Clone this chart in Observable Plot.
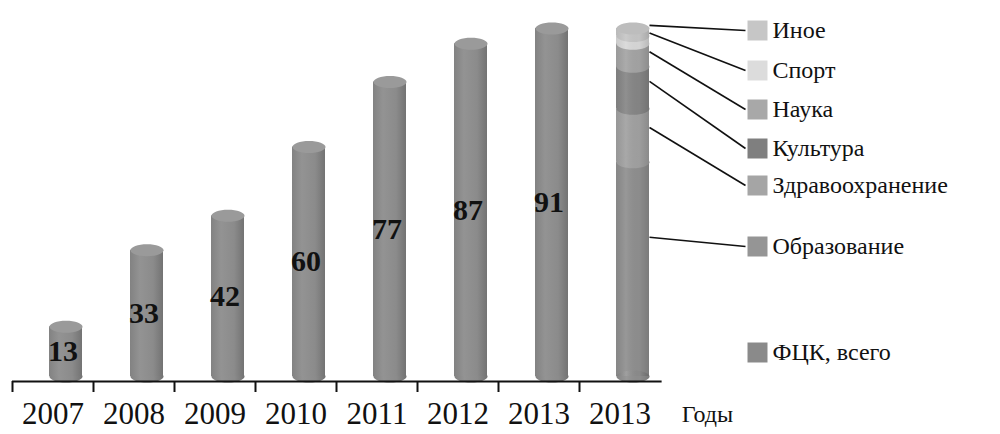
<!DOCTYPE html>
<html>
<head>
<meta charset="utf-8">
<script src="https://cdn.jsdelivr.net/npm/d3@7"></script>
<script src="https://cdn.jsdelivr.net/npm/@observablehq/plot@0.6"></script>
<style>
  html, body { margin: 0; padding: 0; background: #fff; }
  #chart svg { display: block; }
  #chart svg text { font-family: "Liberation Serif", "Times New Roman", serif; }
</style>
</head>
<body>
<div id="chart"></div>
<script>
// ---- data ----
const years = ["2007", "2008", "2009", "2010", "2011", "2012", "2013", "2013"];
const totals = [13, 33, 42, 60, 77, 87, 91];
const sectors = ["Образование", "Здравоохранение", "Культура", "Наука", "Спорт", "Иное"];
const sectorValues = [56, 14, 11, 6, 2, 2];
const legendLabels = ["Иное", "Спорт", "Наука", "Культура", "Здравоохранение", "Образование", "ФЦК, всего"];
const axisTitle = "Годы";

// ---- styles / layout ----
const FONT = "Liberation Serif";
const sectorColors = {"Образование": "#8f8f8f", "Здравоохранение": "#a1a1a1", "Культура": "#868686", "Наука": "#a4a4a4", "Спорт": "#d8d8d8", "Иное": "#c6c6c6"};
const legendColors = {"Иное": "#c6c6c6", "Спорт": "#dcdcdc", "Наука": "#a8a8a8", "Культура": "#7f7f7f", "Здравоохранение": "#a5a5a5", "Образование": "#959595", "ФЦК, всего": "#8a8a8a"};
const legendRowPx = [30, 70, 109, 148, 185, 246, 352];
const W = 1000, H = 434;
const mL = 12, mR = 340, mT = 0, mB = 58;
const xDomain = [-0.5, 7.5], yDomain = [0, 98.3];
const pxPerX = (W - mL - mR) / (xDomain[1] - xDomain[0]);
const pxPerY = (H - mT - mB) / (yDomain[1] - yDomain[0]);
const xOfPx = px => (px - mL) / pxPerX + xDomain[0];
const yOfPx = py => (H - mB - py) / pxPerY + yDomain[0];
const barShift = 13 / pxPerX;      // cylinders drawn right of band centre (3D offset)
const barHalf = 16.5 / pxPerX;
const RX = 16.5, RY = 6;

const ellipse = {
  draw(ctx) {
    const k = 0.5523;
    ctx.moveTo(RX, 0);
    ctx.bezierCurveTo(RX, RY * k, RX * k, RY, 0, RY);
    ctx.bezierCurveTo(-RX * k, RY, -RX, RY * k, -RX, 0);
    ctx.bezierCurveTo(-RX, -RY * k, -RX * k, -RY, 0, -RY);
    ctx.bezierCurveTo(RX * k, -RY, RX, -RY * k, RX, 0);
    ctx.closePath();
  }
};
const square = {
  draw(ctx) { ctx.moveTo(-10, -10); ctx.lineTo(10, -10); ctx.lineTo(10, 10); ctx.lineTo(-10, 10); ctx.closePath(); }
};

// ---- derived tables ----
const totalRows = totals.map((v, i) => ({i, v, label: years[i]}));
let acc = 0;
const segRows = sectors.map((s, k) => {
  const r = {i: 7, sector: s, y0: acc, y1: acc + sectorValues[k], k};
  acc += sectorValues[k];
  return r;
});
const stackTotal = acc;
const legendRows = legendLabels.map((name, j) => ({name, y: yOfPx(legendRowPx[j])}));
const leaderRows = segRows.map(s => ({
  sector: s.sector,
  yStart: s.y0 + 0.65 * (s.y1 - s.y0) + (s.k >= 4 ? 1.5 : 0),
  yEnd: legendRows.find(l => l.name === s.sector).y
}));

const chart = Plot.plot({
  width: W, height: H,
  marginLeft: mL, marginRight: mR, marginTop: mT, marginBottom: mB,
  style: {fontFamily: FONT, background: "#fff", overflow: "visible"},
  x: {type: "linear", domain: xDomain, range: [mL, W - mR]},
  y: {domain: yDomain, range: [H - mB, mT], axis: null},
  marks: [
    // single cylinders
    Plot.dot(totalRows, {x: d => d.i + barShift, y: 0, symbol: ellipse, fill: "url(#cylBody)", stroke: "none"}),
    Plot.rect(totalRows, {x1: d => d.i + barShift - barHalf, x2: d => d.i + barShift + barHalf, y1: 0, y2: d => d.v, fill: "url(#cylBody)"}),
    // stacked cylinder
    Plot.dot(segRows.slice(0, 1), {x: d => d.i + barShift, y: 0, symbol: ellipse, fill: d => sectorColors[d.sector]}),
    Plot.rect(segRows, {x1: d => d.i + barShift - barHalf, x2: d => d.i + barShift + barHalf, y1: "y0", y2: "y1", fill: d => sectorColors[d.sector]}),
    Plot.dot(segRows.slice(1), {x: d => d.i + barShift, y: "y0", symbol: ellipse, fill: d => sectorColors[d.sector]}),
    Plot.dot([{i: 7, v: stackTotal}], {x: d => d.i + barShift, y: 0, symbol: ellipse, fill: "url(#shade)"}),
    Plot.rect([{i: 7, v: stackTotal}], {x1: d => d.i + barShift - barHalf, x2: d => d.i + barShift + barHalf, y1: 0, y2: d => d.v, fill: "url(#shade)"}),
    // top caps
    Plot.dot(totalRows, {x: d => d.i + barShift, y: "v", symbol: ellipse, fill: "#9a9a9a"}),
    Plot.dot([{i: 7, v: stackTotal}], {x: d => d.i + barShift, y: "v", symbol: ellipse, fill: "#bdbdbd"}),
    // axis
    Plot.ruleY([0], {x1: xDomain[0], x2: xDomain[1] + 0.02, dy: 5, stroke: "#111", strokeWidth: 2}),
    Plot.ruleX(d3.range(8).map(i => i - 0.5), {x: d => d, y1: yOfPx(381), y2: yOfPx(392), stroke: "#111", strokeWidth: 2}),
    Plot.axisX({ticks: d3.range(8), tickFormat: i => years[i], tickSize: 0, tickPadding: 25, fontSize: 31, fontFamily: FONT, label: null, fill: "#111"}),
    Plot.text([axisTitle], {x: xOfPx(707), y: yOfPx(414), text: d => d, fontSize: 24, fontFamily: FONT, fill: "#111"}),
    // values
    Plot.text(totalRows, {x: d => d.i + barShift - 3 / pxPerX, y: d => d.v / 2, text: d => String(d.v), fontSize: 30, fontWeight: "bold", fontFamily: FONT, fill: "#111"}),
    // leaders & legend
    Plot.link(leaderRows, {x1: 7 + barShift + barHalf, y1: "yStart", x2: xOfPx(745), y2: "yEnd", stroke: "#111", strokeWidth: 1.6}),
    Plot.dot(legendRows, {x: xOfPx(757), y: "y", symbol: square, fill: d => legendColors[d.name], stroke: "none"}),
    Plot.text(legendRows, {x: xOfPx(772), y: "y", text: "name", textAnchor: "start", fontSize: 24, fontFamily: FONT, fill: "#111"})
  ]
});

const defs = document.createElementNS("http://www.w3.org/2000/svg", "defs");
defs.innerHTML = `
  <linearGradient id="cylBody" x1="0" x2="1" y1="0" y2="0">
    <stop offset="0" stop-color="#828282"/>
    <stop offset="0.3" stop-color="#939393"/>
    <stop offset="0.7" stop-color="#8b8b8b"/>
    <stop offset="1" stop-color="#737373"/>
  </linearGradient>
  <linearGradient id="shade" x1="0" x2="1" y1="0" y2="0">
    <stop offset="0" stop-color="#000" stop-opacity="0.06"/>
    <stop offset="0.3" stop-color="#fff" stop-opacity="0.08"/>
    <stop offset="0.7" stop-color="#000" stop-opacity="0.02"/>
    <stop offset="1" stop-color="#000" stop-opacity="0.14"/>
  </linearGradient>`;
chart.insertBefore(defs, chart.firstChild);
document.getElementById("chart").appendChild(chart);
</script>
</body>
</html>
